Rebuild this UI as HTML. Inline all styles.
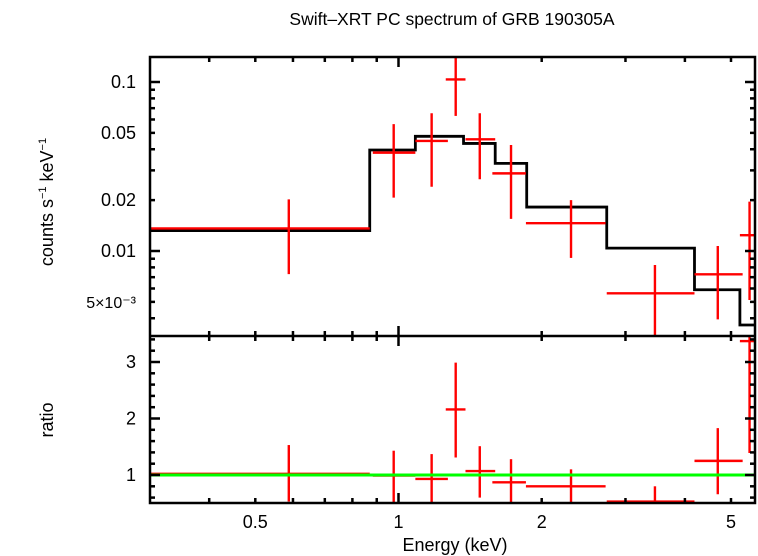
<!DOCTYPE html>
<html><head><meta charset="utf-8"><style>
html,body{margin:0;padding:0;background:#fff;}
svg{display:block;font-family:"Liberation Sans",sans-serif;}
</style></head><body>
<svg id="chart" width="758" height="556" viewBox="0 0 758 556" xmlns="http://www.w3.org/2000/svg">
<text x="452" y="25" font-size="17.5" text-anchor="middle">Swift–XRT PC spectrum of GRB 190305A</text>
<text transform="translate(53,202) rotate(-90)" font-size="18" text-anchor="middle">counts s<tspan font-size="11" dy="-7">−1</tspan><tspan dy="7"> keV</tspan><tspan font-size="11" dy="-7">−1</tspan></text>
<text transform="translate(53,420) rotate(-90)" font-size="18" text-anchor="middle">ratio</text>
<text x="455" y="551" font-size="18" text-anchor="middle">Energy (keV)</text>
<g id="g"></g>
</svg>
<script>
// data
const binLo = [0.30, 0.883, 1.085, 1.257, 1.383, 1.575, 1.853, 2.74, 4.19, 5.22];
const binHi = [0.87, 1.085, 1.27, 1.383, 1.597, 1.853, 2.725, 4.19, 5.29, 5.60];
const binCenter = [0.588, 0.977, 1.174, 1.319, 1.482, 1.724, 2.305, 3.46, 4.69, 5.47];
const rate = [0.0136, 0.0382, 0.0448, 0.1035, 0.0458, 0.0288, 0.0146, 0.00562, 0.00728, 0.0124];
const rateHi = [0.0202, 0.0563, 0.0653, 0.150, 0.0653, 0.0424, 0.0200, 0.00826, 0.0107, 0.0196];
const rateLo = [0.0073, 0.0207, 0.0240, 0.063, 0.0266, 0.0155, 0.0091, 0.0025, 0.00394, 0.00513];
const ratio = [1.02, 0.99, 0.93, 2.16, 1.07, 0.87, 0.80, 0.53, 1.25, 3.37];
const ratioHi = [1.53, 1.43, 1.37, 2.99, 1.51, 1.28, 1.10, 0.80, 1.83, 4.5];
const ratioLo = [0.53, 0.51, 0.49, 1.31, 0.60, 0.47, 0.3, 0.3, 0.66, 1.39];
const modelEdges = [0.30, 0.87, 1.085, 1.37, 1.597, 1.86, 2.74, 4.19, 5.22, 5.60];
const modelVals = [0.0132, 0.0396, 0.0477, 0.0433, 0.033, 0.0182, 0.0104, 0.0059, 0.00365];
const xTickVals = [0.5, 1, 2, 5];
const xTickLabels = ["0.5", "1", "2", "5"];
const yTopTickVals = [0.1, 0.05, 0.02, 0.01, 0.005];
const yTopTickLabels = ["0.1", "0.05", "0.02", "0.01", "5×10⁻³"];
const yBotTickVals = [1, 2, 3];
const yBotTickLabels = ["1", "2", "3"];

const L=150,R=755,T=57,M=336,B=503;
const x=e=>398.5+475.7*Math.log10(e);
const yT=v=>251-169*Math.log10(v/0.01);
const yB=v=>475-56.5*(v-1);
const NS="http://www.w3.org/2000/svg";
const g=document.getElementById('g');
function mk(tag,attrs,parent){const el=document.createElementNS(NS,tag);for(const k in attrs)el.setAttribute(k,attrs[k]);(parent||g).appendChild(el);return el;}
function line(x1,y1,x2,y2,stroke,w,parent){return mk('line',{x1,y1,x2,y2,stroke,'stroke-width':w},parent);}

const defs=mk('defs',{});
const c1=mk('clipPath',{id:'ct'},defs);mk('rect',{x:L,y:T,width:R-L,height:M-T},c1);
const c2=mk('clipPath',{id:'cb'},defs);mk('rect',{x:L,y:M,width:R-L,height:B-M},c2);

const topG=mk('g',{'clip-path':'url(#ct)'});


let d='';
for(let i=0;i<modelVals.length;i++){
  const y=yT(modelVals[i]);
  d+=(i===0?'M':'L')+x(modelEdges[i])+','+y+'L'+x(modelEdges[i+1])+','+y;
}
const mp=mk('path',{d,fill:'none',stroke:'#000','stroke-width':2.8},topG);


for(let i=0;i<rate.length;i++){
  const pg=mk('g',{},topG);
  
  
  line(x(binLo[i]),yT(rate[i]),x(binHi[i]),yT(rate[i]),'#f00',2.4,pg);
  line(x(binCenter[i]),yT(rateHi[i]),x(binCenter[i]),yT(rateLo[i]),'#f00',2.4,pg);
}
const botG=mk('g',{'clip-path':'url(#cb)'});


for(let i=0;i<ratio.length;i++){
  const pg=mk('g',{},botG);
  
  
  line(x(binLo[i]),yB(ratio[i]),x(binHi[i]),yB(ratio[i]),'#f00',2.4,pg);
  line(x(binCenter[i]),yB(ratioHi[i]),x(binCenter[i]),yB(ratioLo[i]),'#f00',2.4,pg);
}
const gl=line(L,yB(1),R,yB(1),'#0f0',3,botG);



const ax=mk('g',{});


mk('rect',{x:L,y:T,width:R-L,height:B-T,fill:'none',stroke:'#000','stroke-width':2.5},ax);
line(L,M,R,M,'#000',2.5,ax);
const xMinor=[0.4,0.5,0.6,0.7,0.8,0.9,2,3,4,5];
[[T,M],[M,B]].forEach(([t,b])=>{
  line(x(1),t,x(1),t+10,'#000',2.5,ax);line(x(1),b,x(1),b-10,'#000',2.5,ax);
  xMinor.forEach(e=>{line(x(e),t,x(e),t+5,'#000',2.5,ax);line(x(e),b,x(e),b-5,'#000',2.5,ax);});
});
const topMinor=[0.004,0.005,0.006,0.007,0.008,0.009,0.02,0.03,0.04,0.05,0.06,0.07,0.08,0.09];
[0.01,0.1].forEach(v=>{line(L,yT(v),L+10,yT(v),'#000',2.5,ax);line(R,yT(v),R-10,yT(v),'#000',2.5,ax);});
topMinor.forEach(v=>{line(L,yT(v),L+5,yT(v),'#000',2.5,ax);line(R,yT(v),R-5,yT(v),'#000',2.5,ax);});
for(let v=0.6;v<3.45;v+=0.2){
  const r=Math.round(v*10)/10;const maj=Math.abs(r-Math.round(r))<0.01;
  const len=maj?10:5;
  line(L,yB(r),L+len,yB(r),'#000',2.5,ax);line(R,yB(r),R-len,yB(r),'#000',2.5,ax);
}
xTickVals.forEach((v,i)=>{const t=mk('text',{x:x(v),y:528,'font-size':18,'text-anchor':'middle'},ax);t.textContent=xTickLabels[i];
  });
yTopTickVals.forEach((v,i)=>{const t=mk('text',{x:136,y:yT(v)+6,'font-size':i===4?16:18,'text-anchor':'end'},ax);t.textContent=yTopTickLabels[i];
  });
yBotTickVals.forEach((v,i)=>{const t=mk('text',{x:136,y:yB(v)+6,'font-size':18,'text-anchor':'end'},ax);t.textContent=yBotTickLabels[i];
  });
</script>
</body></html>
